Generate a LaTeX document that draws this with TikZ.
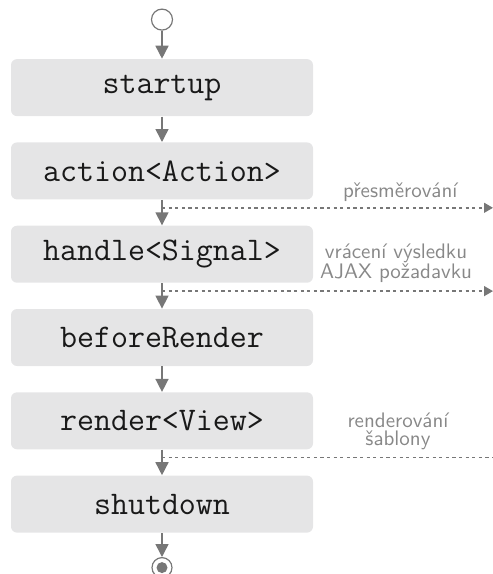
\documentclass[tikz,border=0pt]{standalone}
\usepackage{fontspec}
\usetikzlibrary{positioning,arrows.meta}
\definecolor{boxgray}{HTML}{E5E5E6}
\definecolor{linegray}{HTML}{777777}
\definecolor{textgray}{HTML}{888888}

\begin{document}
\begin{tikzpicture}[
        node distance=12.75pt,
        stage/.style={fill=boxgray,rounded corners=3pt,minimum width=151pt,minimum height=28.5pt,
            font=\fontsize{16.5}{19}\selectfont\ttfamily,text=black!90},
        flow/.style={draw=linegray,line width=0.75pt,-{Triangle[length=6.5pt,width=6.5pt]}},
        side/.style={draw=linegray,line width=0.7pt,dash pattern=on 1.6pt off 1.7pt},
        lbl/.style={font=\fontsize{10.5}{12}\selectfont\sffamily,text=textgray,align=center,inner sep=1pt}]

    \useasboundingbox (0,0) rectangle (246.5pt,-287pt);

    % start and stages
    \node[circle,draw=linegray,line width=0.6pt,minimum size=10.5pt,inner sep=0pt] (start) at (81pt,-9.8pt) {};
    \node[stage,below=14pt of start] (startup) {startup};
    \node[stage,below=of startup] (action) {action<Action>};
    \node[stage,below=of action] (handle) {handle<Signal>};
    \node[stage,below=of handle] (before) {beforeRender};
    \node[stage,below=of before] (render) {render<View>};
    \node[stage,below=of render] (shutdown) {shutdown};
    \node[circle,draw=linegray,line width=0.6pt,minimum size=10pt,inner sep=0pt,below=12pt of shutdown] (stop) {};
    \node[circle,fill=linegray,minimum size=5.5pt,inner sep=0pt] (stopdot) at (stop) {};

    % side exits
    \coordinate[below=4pt of action] (redirect);
    \coordinate[below=4pt of handle] (ajax);
    \coordinate[below=4pt of render] (template);
    \coordinate (edge) at (246.5pt,0);
    \draw[side,-{Triangle[length=4.5pt,width=5pt]}] (redirect) -- (redirect -| edge)
        node[lbl,pos=.72,above=2pt] {přesměrování};
    \draw[side,-{Triangle[length=4.5pt,width=5pt]}] (ajax) -- (ajax -| edge)
        node[lbl,pos=.707,above=3pt] {vrácení výsledku\\[-2pt]AJAX požadavku};
    \draw[side] (template) -- (template -| edge)
        node[lbl,pos=.713,above=2.6pt] {renderování\\[-3pt]šablony};

    % main flow
    \draw[flow] (start) -- (startup);
    \draw[flow] (startup) -- (action);
    \draw[flow] (action) -- (handle);
    \draw[flow] (handle) -- (before);
    \draw[flow] (before) -- (render);
    \draw[flow] (render) -- (shutdown);
    \draw[flow] (shutdown) -- (stop);
\end{tikzpicture}
\end{document}
